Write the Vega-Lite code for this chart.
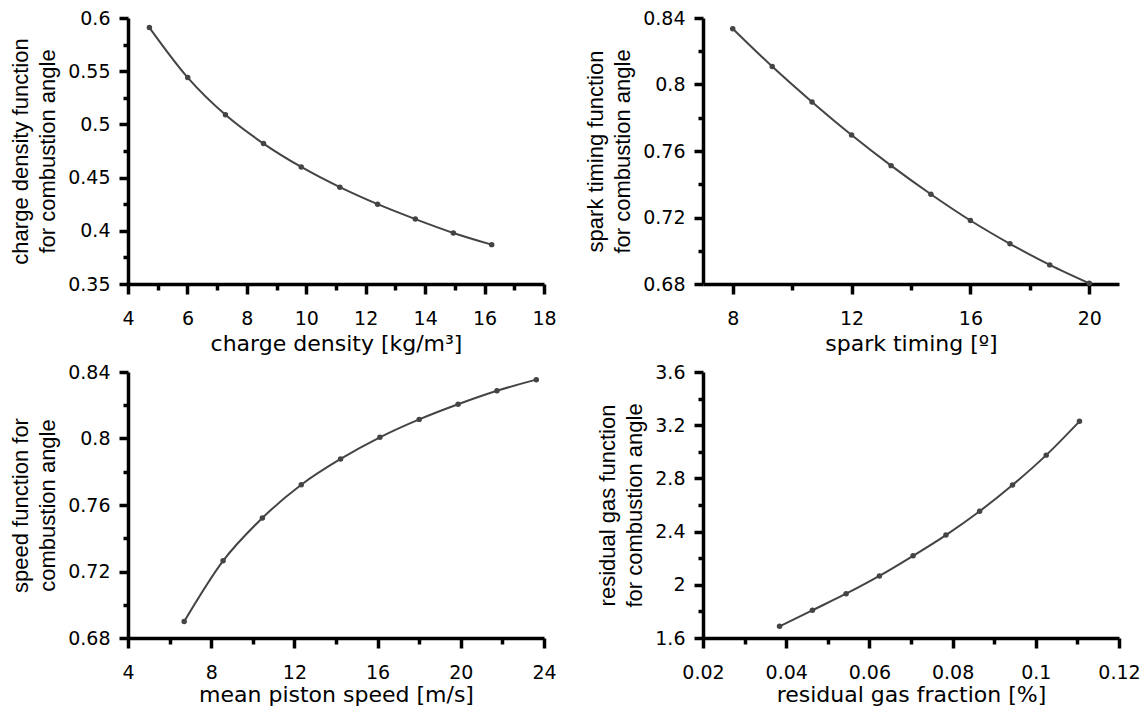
{
  "$schema": "https://vega.github.io/schema/vega-lite/v6.json",
  "padding": {"left": 9, "top": 9, "right": 5, "bottom": 5},
  "background": "white",
  "datasets": {
    "cd": [
      {"x": 4.72, "y": 0.591}, {"x": 6.01, "y": 0.544}, {"x": 7.28, "y": 0.509},
      {"x": 8.56, "y": 0.482}, {"x": 9.83, "y": 0.46}, {"x": 11.13, "y": 0.441},
      {"x": 12.4, "y": 0.425}, {"x": 13.67, "y": 0.411}, {"x": 14.95, "y": 0.398},
      {"x": 16.24, "y": 0.387}
    ],
    "st": [
      {"x": 8.0, "y": 0.8336}, {"x": 9.33, "y": 0.8108}, {"x": 10.67, "y": 0.7895},
      {"x": 12.0, "y": 0.7696}, {"x": 13.33, "y": 0.7512}, {"x": 14.67, "y": 0.734},
      {"x": 16.0, "y": 0.7182}, {"x": 17.33, "y": 0.7042}, {"x": 18.67, "y": 0.6915},
      {"x": 20.0, "y": 0.6804}
    ],
    "ps": [
      {"x": 6.7, "y": 0.6899}, {"x": 8.57, "y": 0.7264}, {"x": 10.46, "y": 0.7522},
      {"x": 12.33, "y": 0.7722}, {"x": 14.22, "y": 0.7877}, {"x": 16.11, "y": 0.8007},
      {"x": 18.0, "y": 0.8115}, {"x": 19.87, "y": 0.8206}, {"x": 21.74, "y": 0.8287},
      {"x": 23.63, "y": 0.8354}
    ],
    "rg": [
      {"x": 0.0384, "y": 1.688}, {"x": 0.0463, "y": 1.809}, {"x": 0.0544, "y": 1.933},
      {"x": 0.0624, "y": 2.067}, {"x": 0.0705, "y": 2.218}, {"x": 0.0784, "y": 2.374},
      {"x": 0.0865, "y": 2.553}, {"x": 0.0944, "y": 2.75}, {"x": 0.1025, "y": 2.975},
      {"x": 0.1105, "y": 3.229}
    ]
  },
  "config": {
    "view": {"stroke": null},
    "font": "DejaVu Sans",
    "axis": {
      "grid": false,
      "labelColor": "black",
      "titleColor": "black",
      "titleFontWeight": "normal",
      "labelFlush": false,
      "labelOverlap": false
    }
  },
  "columns": 2,
  "bounds": "flush",
  "spacing": {"row": 88, "column": 159},
  "concat": [
    {
      "width": 416, "height": 266,
      "data": {"name": "cd"},
      "resolve": {"axis": {"x": "independent", "y": "independent"}},
      "layer": [
        {
          "mark": {"type": "line", "interpolate": "monotone", "color": "#444444", "strokeWidth": 2},
          "encoding": {
            "x": {"field": "x", "type": "quantitative",
                  "scale": {"domain": [4, 18], "nice": false, "zero": false},
                  "axis": {"values": [4, 6, 8, 10, 12, 14, 16, 18], "labelExpr": "format(datum.value, '.2~f')", "title": "charge density [kg/m³]", "orient": "bottom",
                           "domainColor": "black", "domainWidth": 3.5, "tickColor": "black", "tickWidth": 3.5, "tickSize": 10, "labelFont": "DejaVu Sans", "labelFontSize": 19, "labelPadding": 15, "titleFont": "DejaVu Sans", "titleFontSize": 22, "titlePadding": 5}},
            "y": {"field": "y", "type": "quantitative",
                  "scale": {"domain": [0.35, 0.6], "nice": false, "zero": false},
                  "axis": {"values": [0.35, 0.4, 0.45, 0.5, 0.55, 0.6], "labelExpr": "format(datum.value, '.2~f')", "title": ["charge density function", "for combustion angle"], "orient": "left",
                           "domainColor": "black", "domainWidth": 3.5, "tickColor": "black", "tickWidth": 3.5, "tickSize": 9, "labelFont": "DejaVu Sans", "labelFontSize": 19, "labelPadding": 9, "titleFont": "Liberation Sans", "titleFontSize": 22, "titleLineHeight": 27, "titlePadding": 8}}
          }
        },
        {
          "mark": {"type": "point", "filled": true, "color": "#444444", "size": 30, "opacity": 1},
          "encoding": {
            "x": {"field": "x", "type": "quantitative",
                  "axis": {"values": [5, 7, 9, 11, 13, 15, 17], "labels": false, "domain": false, "tickColor": "black", "tickWidth": 3.5, "tickSize": 6, "title": null, "orient": "bottom"}},
            "y": {"field": "y", "type": "quantitative",
                  "axis": {"values": [0.375, 0.425, 0.475, 0.525, 0.575], "labels": false, "domain": false, "tickColor": "black", "tickWidth": 3.5, "tickSize": 5, "title": null, "orient": "left"}}
          }
        }
      ]
    },
    {
      "width": 416, "height": 266,
      "data": {"name": "st"},
      "resolve": {"axis": {"x": "independent", "y": "independent"}},
      "layer": [
        {
          "mark": {"type": "line", "interpolate": "monotone", "color": "#444444", "strokeWidth": 2},
          "encoding": {
            "x": {"field": "x", "type": "quantitative",
                  "scale": {"domain": [7, 21], "nice": false, "zero": false},
                  "axis": {"values": [8, 12, 16, 20], "labelExpr": "format(datum.value, '.2~f')", "title": "spark timing [º]", "orient": "bottom",
                           "domainColor": "black", "domainWidth": 3.5, "tickColor": "black", "tickWidth": 3.5, "tickSize": 10, "labelFont": "DejaVu Sans", "labelFontSize": 19, "labelPadding": 15, "titleFont": "DejaVu Sans", "titleFontSize": 22, "titlePadding": 5}},
            "y": {"field": "y", "type": "quantitative",
                  "scale": {"domain": [0.68, 0.84], "nice": false, "zero": false},
                  "axis": {"values": [0.68, 0.72, 0.76, 0.8, 0.84], "labelExpr": "format(datum.value, '.2~f')", "title": ["spark timing function", "for combustion angle"], "orient": "left",
                           "domainColor": "black", "domainWidth": 3.5, "tickColor": "black", "tickWidth": 3.5, "tickSize": 9, "labelFont": "DejaVu Sans", "labelFontSize": 19, "labelPadding": 9, "titleFont": "Liberation Sans", "titleFontSize": 22, "titleLineHeight": 27, "titlePadding": 8}}
          }
        },
        {
          "mark": {"type": "point", "filled": true, "color": "#444444", "size": 30, "opacity": 1},
          "encoding": {
            "x": {"field": "x", "type": "quantitative",
                  "axis": {"values": [10, 14, 18], "labels": false, "domain": false, "tickColor": "black", "tickWidth": 3.5, "tickSize": 6, "title": null, "orient": "bottom"}},
            "y": {"field": "y", "type": "quantitative",
                  "axis": {"values": [0.7, 0.74, 0.78, 0.82], "labels": false, "domain": false, "tickColor": "black", "tickWidth": 3.5, "tickSize": 5, "title": null, "orient": "left"}}
          }
        }
      ]
    },
    {
      "width": 416, "height": 266,
      "data": {"name": "ps"},
      "resolve": {"axis": {"x": "independent", "y": "independent"}},
      "layer": [
        {
          "mark": {"type": "line", "interpolate": "monotone", "color": "#444444", "strokeWidth": 2},
          "encoding": {
            "x": {"field": "x", "type": "quantitative",
                  "scale": {"domain": [4, 24], "nice": false, "zero": false},
                  "axis": {"values": [4, 8, 12, 16, 20, 24], "labelExpr": "format(datum.value, '.2~f')", "title": "mean piston speed [m/s]", "orient": "bottom",
                           "domainColor": "black", "domainWidth": 3.5, "tickColor": "black", "tickWidth": 3.5, "tickSize": 10, "labelFont": "DejaVu Sans", "labelFontSize": 19, "labelPadding": 15, "titleFont": "DejaVu Sans", "titleFontSize": 22, "titlePadding": 2}},
            "y": {"field": "y", "type": "quantitative",
                  "scale": {"domain": [0.68, 0.84], "nice": false, "zero": false},
                  "axis": {"values": [0.68, 0.72, 0.76, 0.8, 0.84], "labelExpr": "format(datum.value, '.2~f')", "title": ["speed function for", "combustion angle"], "orient": "left",
                           "domainColor": "black", "domainWidth": 3.5, "tickColor": "black", "tickWidth": 3.5, "tickSize": 9, "labelFont": "DejaVu Sans", "labelFontSize": 19, "labelPadding": 9, "titleFont": "Liberation Sans", "titleFontSize": 22, "titleLineHeight": 27, "titlePadding": 8}}
          }
        },
        {
          "mark": {"type": "point", "filled": true, "color": "#444444", "size": 30, "opacity": 1},
          "encoding": {
            "x": {"field": "x", "type": "quantitative",
                  "axis": {"values": [6, 10, 14, 18, 22], "labels": false, "domain": false, "tickColor": "black", "tickWidth": 3.5, "tickSize": 6, "title": null, "orient": "bottom"}},
            "y": {"field": "y", "type": "quantitative",
                  "axis": {"values": [0.7, 0.74, 0.78, 0.82], "labels": false, "domain": false, "tickColor": "black", "tickWidth": 3.5, "tickSize": 5, "title": null, "orient": "left"}}
          }
        }
      ]
    },
    {
      "width": 416, "height": 266,
      "data": {"name": "rg"},
      "resolve": {"axis": {"x": "independent", "y": "independent"}},
      "layer": [
        {
          "mark": {"type": "line", "interpolate": "monotone", "color": "#444444", "strokeWidth": 2},
          "encoding": {
            "x": {"field": "x", "type": "quantitative",
                  "scale": {"domain": [0.02, 0.12], "nice": false, "zero": false},
                  "axis": {"values": [0.02, 0.04, 0.06, 0.08, 0.1, 0.12], "labelExpr": "format(datum.value, '.2~f')", "title": "residual gas fraction [%]", "orient": "bottom",
                           "domainColor": "black", "domainWidth": 3.5, "tickColor": "black", "tickWidth": 3.5, "tickSize": 10, "labelFont": "DejaVu Sans", "labelFontSize": 19, "labelPadding": 15, "titleFont": "DejaVu Sans", "titleFontSize": 22, "titlePadding": 2}},
            "y": {"field": "y", "type": "quantitative",
                  "scale": {"domain": [1.6, 3.6], "nice": false, "zero": false},
                  "axis": {"values": [1.6, 2, 2.4, 2.8, 3.2, 3.6], "labelExpr": "format(datum.value, '.2~f')", "title": ["residual gas function", "for combustion angle"], "orient": "left",
                           "domainColor": "black", "domainWidth": 3.5, "tickColor": "black", "tickWidth": 3.5, "tickSize": 9, "labelFont": "DejaVu Sans", "labelFontSize": 19, "labelPadding": 9, "titleFont": "Liberation Sans", "titleFontSize": 22, "titleLineHeight": 27, "titlePadding": 8}}
          }
        },
        {
          "mark": {"type": "point", "filled": true, "color": "#444444", "size": 30, "opacity": 1},
          "encoding": {
            "x": {"field": "x", "type": "quantitative",
                  "axis": {"values": [0.03, 0.05, 0.07, 0.09, 0.11], "labels": false, "domain": false, "tickColor": "black", "tickWidth": 3.5, "tickSize": 6, "title": null, "orient": "bottom"}},
            "y": {"field": "y", "type": "quantitative",
                  "axis": {"values": [1.8, 2.2, 2.6, 3.0, 3.4], "labels": false, "domain": false, "tickColor": "black", "tickWidth": 3.5, "tickSize": 5, "title": null, "orient": "left"}}
          }
        }
      ]
    }
  ]
}
